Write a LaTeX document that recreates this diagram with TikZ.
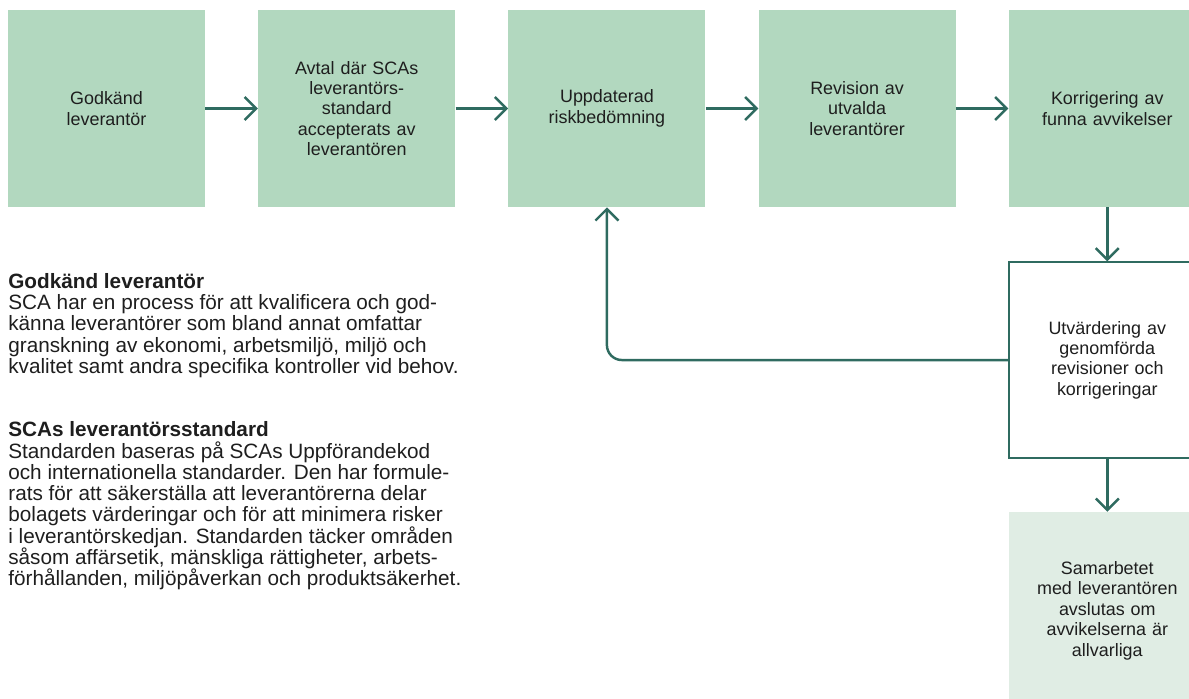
\documentclass[tikz,border=0pt]{standalone}
\usepackage{fontspec}
\setmainfont{Liberation Sans}
\usetikzlibrary{arrows.meta,positioning}
\definecolor{scagreen}{HTML}{B2D8BF}
\definecolor{scapale}{HTML}{E0EDE4}
\definecolor{scadark}{HTML}{2F6B60}
\definecolor{scatext}{HTML}{1E1E1E}

\begin{document}
\begin{tikzpicture}[
  proc/.style={rectangle, fill=scagreen, minimum width=3.94cm, minimum height=3.94cm, text width=3.3cm, align=center, inner sep=0pt, font=\fontsize{10.2}{11.6}\selectfont, text=scatext},
  note/.style={align=left, inner sep=0pt, anchor=north west, font=\fontsize{11.8}{12.1}\selectfont, text=scatext},
  flow/.style={-{Straight Barb[length=2.3mm,width=4.6mm]}, line width=1.4pt, draw=scadark},
  node distance=1.05cm
]
\useasboundingbox (0,0) rectangle (23.78,-13.98);

\node[proc] at (2.13,-2.17) (god) {Godkänd\\leverantör};
\node[proc, right=of god]  (avtal) {Avtal där SCAs\\leverantörs-\\standard\\accepterats av\\leverantören};
\node[proc, right=of avtal] (upp)  {Uppdaterad\\riskbedömning};
\node[proc, right=of upp]   (rev)  {Revision av\\utvalda\\leverantörer};
\node[proc, right=of rev]   (korr) {Korrigering av\\funna avvikelser};

\node[proc, fill=white, draw=scadark, line width=0.8pt, minimum height=3.92cm, below=1.08cm of korr] (utv) {Utvärdering av\\genomförda\\revisioner och\\korrigeringar};
\node[proc, fill=scapale, below=1.06cm of utv] (slut) {Samarbetet\\med leverantören\\avslutas om\\avvikelserna är\\allvarliga};

\draw[flow] (god) -- (avtal);
\draw[flow] (avtal) -- (upp);
\draw[flow] (upp) -- (rev);
\draw[flow] (rev) -- (korr);
\draw[flow] (korr) -- (utv);
\draw[flow] (utv) -- (slut);
\draw[flow, rounded corners=0.3cm] (utv.west) -| (upp.south);

\node[note] at (0.16,-5.46) (godtxt) {\textbf{Godkänd leverantör}\\
SCA har en process för att kvalificera och god-\\
känna leverantörer som bland annat omfattar\\
granskning av ekonomi, arbetsmiljö, miljö och\\
kvalitet samt andra specifika kontroller vid behov.};
\node[note] at (0.16,-8.43) (stdtxt) {\textbf{SCAs leverantörsstandard}\\
Standarden baseras på SCAs Uppförandekod\\
och internationella standarder. Den har formule-\\
rats för att säkerställa att leverantörerna delar\\
bolagets värderingar och för att minimera risker\\
i leverantörskedjan. Standarden täcker områden\\
såsom affärsetik, mänskliga rättigheter, arbets-\\
förhållanden, miljöpåverkan och produktsäkerhet.};
\end{tikzpicture}
\end{document}
